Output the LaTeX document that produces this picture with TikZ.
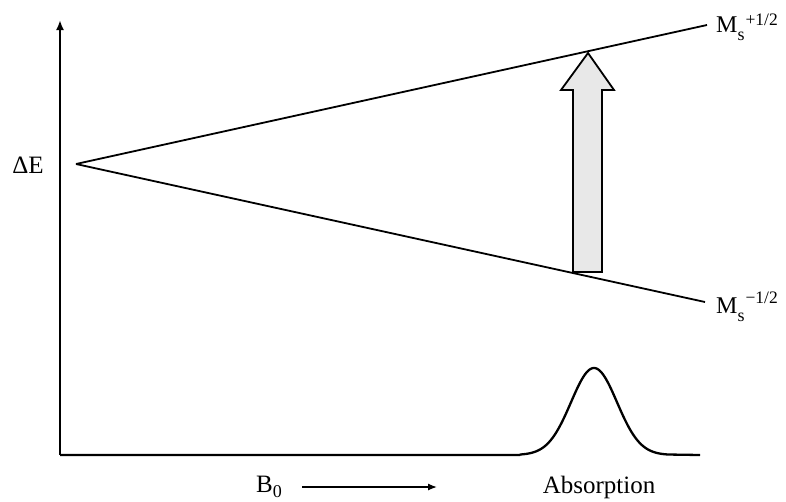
\documentclass[tikz,border=0pt]{standalone}
\usepackage{fontspec}
\setmainfont{Liberation Serif}
\usetikzlibrary{arrows.meta}
\begin{document}
\begin{tikzpicture}[x=1pt,y=-1pt,
  lbl/.style={font=\fontsize{25}{30}\selectfont, inner sep=0pt},
  mlbl/.style={font=\fontsize{24}{28}\selectfont, inner sep=0pt},
  ln/.style={line width=1.8pt},
  ax/.style={line width=2.3pt},
  bigarrow/.style={line width=1.8pt, fill=black!9, line join=miter}]
\useasboundingbox (0,0) rectangle (786,501);
% coordinates
\coordinate (o) at (60,455);
\coordinate (ytop) at (60,20);
\coordinate (xend) at (700,455);
\coordinate (apex) at (76,164);
\coordinate (uend) at (707,25);
\coordinate (lend) at (705,302);
% axes with absorption peak
\draw[ax, -{Latex[length=10pt,width=8pt]}] (o) -- (ytop);
\draw[ax, line join=round] (o) -- (520,455)
  -- plot[domain=520:668, samples=110] (\x, {455-87*exp(-((\x-594)^2)/(2*23*23))})
  -- (xend);
% energy levels
\draw[ln] (apex) -- (uend);
\draw[ln] (apex) -- (lend);
% transition arrow
\draw[bigarrow] (573,272) -- (573,90) -- (561,90) -- (588,53) -- (614,90) -- (602,90) -- (602,272) -- cycle;
% labels
\node[lbl, anchor=base] (dE) at (28,173) {ΔE};
\node[mlbl, anchor=base west] (Mup) at (716,32) {M\raisebox{-8pt}{\fontsize{18}{20}\selectfont s}\hspace{1pt}\raisebox{7pt}{\fontsize{17.5}{20}\selectfont +1/2}};
\node[mlbl, anchor=base west] (Mlo) at (716,313) {M\raisebox{-8pt}{\fontsize{18}{20}\selectfont s}\hspace{1pt}\raisebox{10pt}{\fontsize{17.5}{20}\selectfont −1/2}};
\node[lbl, anchor=base west] (B0) at (256,492) {B\raisebox{-5pt}{\fontsize{18}{20}\selectfont 0}};
\node[lbl, anchor=base] (abs) at (599,493) {Absorption};
\coordinate (bs) at (302,487);
\coordinate (be) at (437,487);
\draw[line width=1.3pt, -{Latex[length=9pt,width=7pt]}] (bs) -- (be);
\end{tikzpicture}
\end{document}
